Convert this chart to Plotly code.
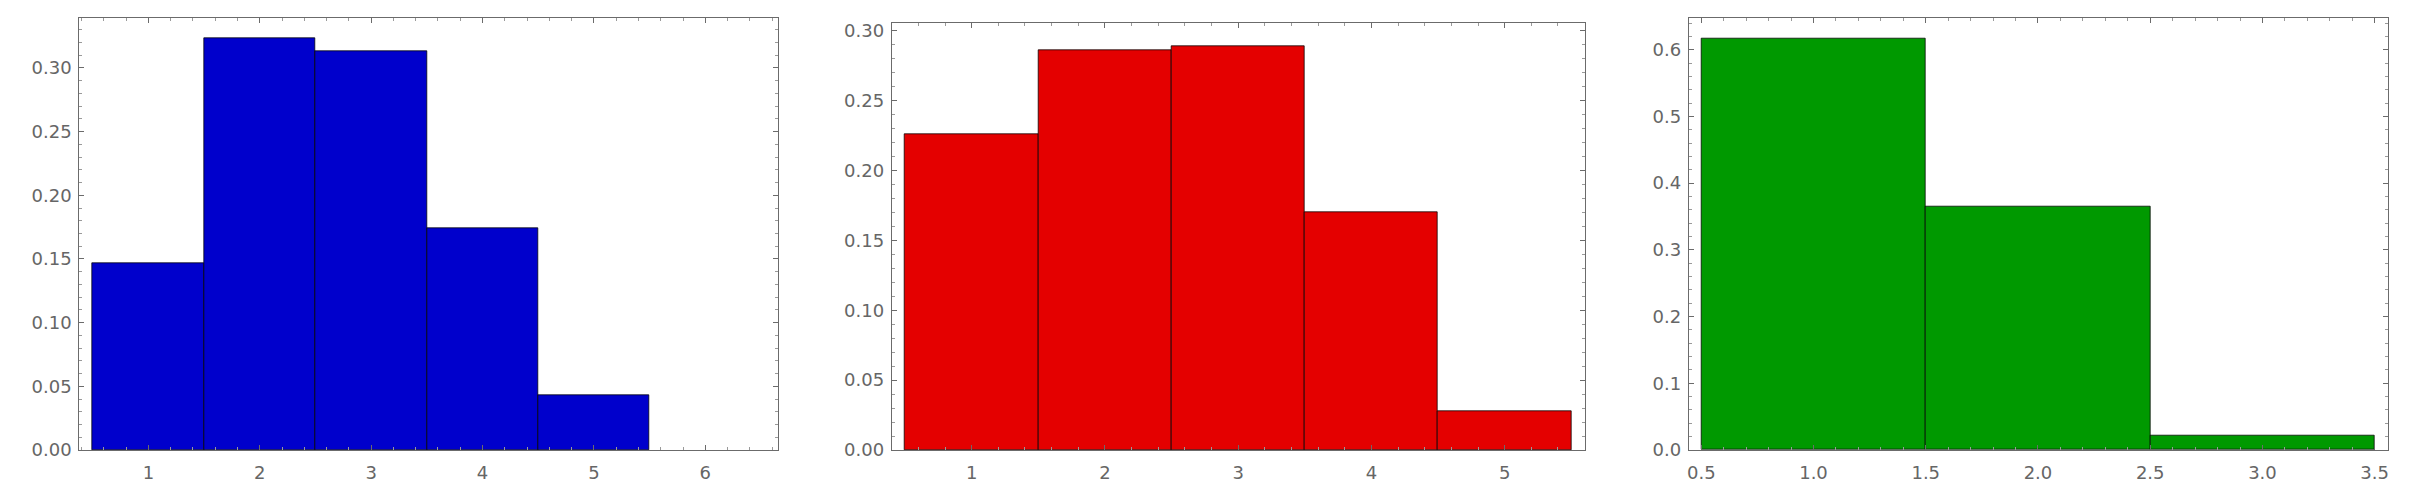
import plotly.graph_objects as go

# histogram bins (bin centres) and their probability heights
bins_a = [1, 2, 3, 4, 5]
probs_a = [0.147, 0.323, 0.313, 0.174, 0.043]

bins_b = [1, 2, 3, 4, 5]
probs_b = [0.226, 0.286, 0.289, 0.170, 0.028]

bins_c = [1, 2, 3]
probs_c = [0.616, 0.364, 0.022]

W, H = 2431, 499
# the html body has an 8px margin, so the figure is drawn 8px in from the corner
OFF = 8
FW, FH = W - 2 * OFF, H - 2 * OFF
axis_grey = "#6b6b6b"
font = dict(family="DejaVu Sans, Arial", size=18, color="#666666")

fig = go.Figure()

# panel setup: pixel frame (page coords) -> paper domains
def px_dom(x0, x1, ytop, ybot):
    x0, x1, ytop, ybot = x0 - OFF, x1 - OFF, ytop - OFF, ybot - OFF
    return [x0 / FW, x1 / FW], [(FH - ybot) / FH, (FH - ytop) / FH]

panels = [
    (bins_a, probs_a, "rgb(0,0,204)", px_dom(79.3, 777.7, 18.3, 450),
     [0.38, 6.65], [0, 0.339], 1, 0.2, 0.05, 0.01, ".2f"),
    (bins_b, probs_b, "rgb(228,0,0)", px_dom(891.7, 1584.6, 23.3, 450),
     [0.40, 5.60], [0, 0.3055], 1, 0.2, 0.05, 0.01, ".2f"),
    (bins_c, probs_c, "rgb(0,153,0)", px_dom(1688.7, 2387.7, 17.7, 450),
     [0.444, 3.558], [0, 0.648], 0.5, 0.1, 0.1, 0.02, ".1f"),
]

layout = {}
for i, (bx, by, col, (xd, yd), xr, yr, xdt, xmin, ydt, ymin, yfmt) in enumerate(panels):
    n = "" if i == 0 else str(i + 1)
    fig.add_trace(go.Bar(
        x=bx, y=by, width=1,
        marker=dict(color=col, line=dict(color="rgba(0,0,0,0.75)", width=1)),
        xaxis="x" + n, yaxis="y" + n, showlegend=False,
    ))
    common = dict(
        showgrid=False, zeroline=False, showline=True, linecolor=axis_grey,
        linewidth=1, mirror="ticks", ticks="inside", ticklen=5, tickwidth=1,
        tickcolor=axis_grey, tickfont=font, automargin=False,
    )
    layout["xaxis" + n] = dict(
        common, domain=xd, range=xr, tick0=0, dtick=xdt, anchor="y" + n,
        tickformat=".1f" if xdt < 1 else "d", ticklabelstandoff=6,
        minor=dict(dtick=xmin, tick0=0, ticks="inside", ticklen=3, tickcolor="#9a9a9a"),
    )
    layout["yaxis" + n] = dict(
        common, domain=yd, range=yr, tick0=0, dtick=ydt, anchor="x" + n,
        tickformat=yfmt, ticklabelstandoff=3,
        minor=dict(dtick=ymin, tick0=0, ticks="inside", ticklen=3, tickcolor="#9a9a9a"),
    )

fig.update_layout(
    **layout,
    width=FW, height=FH, bargap=0,
    margin=dict(l=0, r=0, t=0, b=0),
    plot_bgcolor="white", paper_bgcolor="white",
)

fig.write_html("out.html")
